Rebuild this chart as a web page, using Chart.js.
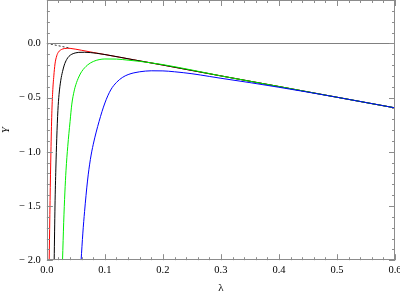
<!DOCTYPE html>
<html>
<head>
<meta charset="utf-8">
<script src="https://cdn.jsdelivr.net/npm/chart.js@4.4.0/dist/chart.umd.min.js"></script>
<style>
  html, body { margin: 0; padding: 0; background: #fff; }
</style>
</head>
<body>
<canvas id="myChart" width="400" height="295"></canvas>
<script>
    // values (lambda, Y)
    const redLam   = [0.004, 0.0055, 0.007, 0.0085, 0.010, 0.012, 0.014, 0.017, 0.020, 0.025, 0.030, 0.035, 0.040, 0.050, 0.060, 0.080, 0.100, 0.150, 0.200, 0.300, 0.400, 0.500, 0.600];
    const redY     = [-2.0, -1.45, -1.0, -0.65, -0.45, -0.30, -0.19, -0.115, -0.08, -0.057, -0.048, -0.045, -0.046, -0.054, -0.064, -0.084, -0.103, -0.152, -0.200, -0.300, -0.398, -0.497, -0.595];

    const blackLam = [0.0126, 0.014, 0.0155, 0.017, 0.019, 0.021, 0.024, 0.027, 0.030, 0.034, 0.038, 0.043, 0.050, 0.055, 0.065, 0.075, 0.085, 0.100, 0.150, 0.200, 0.300, 0.400, 0.500, 0.600];
    const blackY   = [-2.0, -1.5, -1.15, -0.88, -0.62, -0.47, -0.34, -0.26, -0.2, -0.15, -0.12, -0.1, -0.087, -0.083, -0.082, -0.085, -0.091, -0.103, -0.152, -0.200, -0.300, -0.398, -0.497, -0.595];

    const greenLam = [0.027, 0.029, 0.031, 0.033, 0.036, 0.040, 0.043, 0.047, 0.050, 0.055, 0.060, 0.070, 0.080, 0.090, 0.100, 0.120, 0.140, 0.160, 0.180, 0.200, 0.250, 0.300, 0.400, 0.500, 0.600];
    const greenY   = [-2.0, -1.65, -1.38, -1.17, -0.95, -0.72, -0.56, -0.44, -0.38, -0.31, -0.26, -0.2, -0.167, -0.15, -0.144, -0.145, -0.155, -0.166, -0.18, -0.196, -0.246, -0.300, -0.398, -0.497, -0.595];

    const blueLam  = [0.059, 0.062, 0.065, 0.070, 0.075, 0.080, 0.090, 0.100, 0.110, 0.120, 0.130, 0.140, 0.150, 0.160, 0.180, 0.200, 0.220, 0.250, 0.280, 0.300, 0.350, 0.400, 0.450, 0.500, 0.550, 0.600];
    const blueY    = [-2.0, -1.75, -1.55, -1.27, -1.07, -0.93, -0.72, -0.55, -0.43, -0.36, -0.315, -0.288, -0.272, -0.262, -0.253, -0.254, -0.262, -0.28, -0.305, -0.322, -0.362, -0.405, -0.45, -0.497, -0.546, -0.595];

    const asymLam  = [0.0, 0.04];
    const asymY    = [0.0, -0.044];

    const xTicks = [0.0, 0.1, 0.2, 0.3, 0.4, 0.5, 0.6];
    const yTicks = [-2.0, -1.5, -1.0, -0.5, 0.0];

    function toPoints(xs, ys) {
        return xs.map((x, i) => ({ x: x, y: ys[i] }));
    }

    function fmt(v) {
        const s = Math.abs(v).toFixed(1);
        return v < 0 ? '\u2212 ' + s : s;
    }

    const serif = "'Liberation Serif', 'DejaVu Serif', serif";
    const frameColor = '#8c8c8c';

    // Mathematica style frame with inward ticks on all four sides
    const framePlugin = {
        id: 'frame',
        beforeDatasetsDraw(chart) {
            const ctx = chart.ctx;
            const a = chart.chartArea;
            const ys = chart.scales.y;
            ctx.save();
            ctx.strokeStyle = '#808080';
            ctx.lineWidth = 1;
            const y0 = Math.round(ys.getPixelForValue(0)) + 0.5;
            ctx.beginPath();
            ctx.moveTo(a.left, y0);
            ctx.lineTo(a.right, y0);
            ctx.stroke();
            ctx.restore();
        },
        afterDatasetsDraw(chart) {
            const ctx = chart.ctx;
            const a = chart.chartArea;
            const xs = chart.scales.x;
            const ys = chart.scales.y;
            ctx.save();
            ctx.strokeStyle = frameColor;
            ctx.lineWidth = 1;
            ctx.strokeRect(Math.round(a.left) + 0.5, Math.round(a.top) + 0.5,
                Math.round(a.right - a.left) - 1, Math.round(a.bottom - a.top) - 1);
            ctx.beginPath();
            for (let i = 0; i <= 30; i++) {
                const len = i % 5 === 0 ? 6 : 3;
                const px = Math.round(xs.getPixelForValue(i * 0.02)) + 0.5;
                ctx.moveTo(px, a.bottom);
                ctx.lineTo(px, a.bottom - len);
                ctx.moveTo(px, a.top);
                ctx.lineTo(px, a.top + len);
            }
            for (let i = -20; i <= 4; i++) {
                const len = i % 5 === 0 ? 6 : 3;
                const py = Math.round(ys.getPixelForValue(i * 0.1)) + 0.5;
                ctx.moveTo(a.left, py);
                ctx.lineTo(a.left + len, py);
                ctx.moveTo(a.right, py);
                ctx.lineTo(a.right - len, py);
            }
            ctx.stroke();
            ctx.restore();
        }
    };

    const lineStyle = { borderWidth: 1, pointRadius: 0, fill: false, showLine: true, cubicInterpolationMode: 'monotone' };

    function noEdgePadding(scale) {
        scale.paddingTop = 0;
        scale.paddingBottom = 0;
        scale.paddingLeft = 0;
        scale.paddingRight = 0;
    }

    new Chart(document.getElementById('myChart').getContext('2d'), {
        type: 'scatter',
        data: {
            datasets: [
                Object.assign({ label: 'asym', data: toPoints(asymLam, asymY), borderColor: '#333', borderDash: [2, 2] }, lineStyle),
                Object.assign({ label: 'blue', data: toPoints(blueLam, blueY), borderColor: '#0000ff' }, lineStyle),
                Object.assign({ label: 'green', data: toPoints(greenLam, greenY), borderColor: '#00ee00' }, lineStyle),
                Object.assign({ label: 'black', data: toPoints(blackLam, blackY), borderColor: '#000000' }, lineStyle),
                Object.assign({ label: 'red', data: toPoints(redLam, redY), borderColor: '#ff0000' }, lineStyle)
            ]
        },
        options: {
            responsive: false,
            animation: false,
            layout: { padding: { left: 0, right: 5, top: 0, bottom: 0 } },
            plugins: {
                legend: { display: false },
                tooltip: { enabled: false }
            },
            scales: {
                x: {
                    type: 'linear',
                    min: 0,
                    max: 0.6,
                    grid: { display: false, drawTicks: false },
                    border: { display: false },
                    afterBuildTicks: (scale) => { scale.ticks = xTicks.map(v => ({ value: v })); },
                    afterFit: noEdgePadding,
                    ticks: {
                        callback: (v) => fmt(v),
                        color: '#000',
                        padding: 4,
                        maxRotation: 0,
                        autoSkip: false,
                        font: { family: serif, size: 10.5 }
                    },
                    title: {
                        display: true,
                        text: 'λ',
                        color: '#000',
                        padding: { top: 1, bottom: 0 },
                        font: { family: serif, size: 11 }
                    }
                },
                y: {
                    type: 'linear',
                    min: -2,
                    max: 0.4,
                    grid: { display: false, drawTicks: false },
                    border: { display: false },
                    afterBuildTicks: (scale) => { scale.ticks = yTicks.map(v => ({ value: v })); },
                    afterFit: noEdgePadding,
                    ticks: {
                        callback: (v) => fmt(v),
                        color: '#000',
                        padding: 6,
                        font: { family: serif, size: 10.5 }
                    },
                    title: {
                        display: true,
                        text: 'Y',
                        color: '#000',
                        padding: { top: 0, bottom: 0 },
                        font: { family: serif, size: 11, style: 'italic' }
                    }
                }
            }
        },
        plugins: [framePlugin]
    });
</script>
</body>
</html>
